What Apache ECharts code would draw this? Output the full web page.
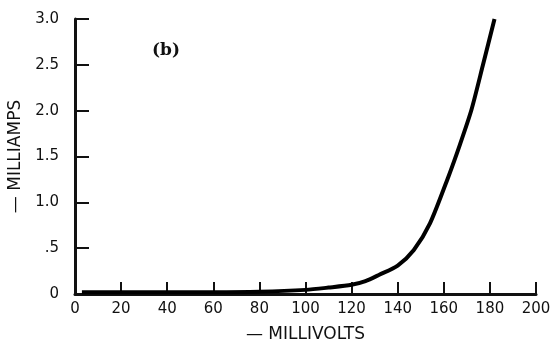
<!DOCTYPE html>
<html>
<head>
<meta charset="utf-8">
<script src="https://cdn.jsdelivr.net/npm/echarts@6/dist/echarts.min.js"></script>
<style>
  html, body { margin: 0; padding: 0; background: #fff; }
  #chart { width: 555px; height: 343px; }
</style>
</head>
<body>
<div id="chart"></div>
<script>
// curve (millivolts, milliamps)
const millivolts = [3, 20, 40, 60, 80, 100, 110, 120, 126, 132, 140, 147, 154, 162, 167, 172, 177, 182];
const milliamps = [0.02, 0.02, 0.02, 0.02, 0.025, 0.045, 0.07, 0.1, 0.14, 0.21, 0.31, 0.48, 0.77, 1.28, 1.63, 2.01, 2.5, 3.0];
const yTickLabels = { '0': '0', '0.5': '.5', '1': '1.0', '1.5': '1.5', '2': '2.0', '2.5': '2.5', '3': '3.0' };

const FONT = 'DejaVu Sans';
const chart = echarts.init(document.getElementById('chart'));

chart.setOption({
  animation: false,
  grid: { left: 75, right: 19, top: 19, bottom: 49, outerBoundsMode: 'none' },
  xAxis: {
    type: 'value',
    min: 0, max: 200, interval: 20,
    name: '— MILLIVOLTS',
    nameLocation: 'middle',
    nameGap: 32,
    nameTextStyle: { color: '#111', fontFamily: FONT, fontSize: 17 },
    axisLine: { lineStyle: { color: '#111', width: 3 } },
    axisTick: { inside: true, length: 12, lineStyle: { color: '#111', width: 2 } },
    axisLabel: { color: '#111', fontFamily: FONT, fontSize: 15, margin: 8 },
    splitLine: { show: false }
  },
  yAxis: {
    type: 'value',
    min: 0, max: 3, interval: 0.5,
    name: '— MILLIAMPS',
    nameLocation: 'middle',
    nameRotate: 90,
    nameGap: 43,
    nameTextStyle: { color: '#111', fontFamily: FONT, fontSize: 17 },
    axisLine: { show: true, lineStyle: { color: '#111', width: 3 } },
    axisTick: { show: true, inside: true, length: 14, lineStyle: { color: '#111', width: 2 } },
    axisLabel: {
      color: '#111', fontFamily: FONT, fontSize: 15, margin: 16,
      formatter: v => yTickLabels[String(v)] ?? String(v)
    },
    splitLine: { show: false }
  },
  graphic: [{
    type: 'text',
    left: 152, top: 42,
    style: { text: '(b)', fill: '#111', font: 'bold 17px "DejaVu Serif"' }
  }],
  series: [{
    type: 'line',
    smooth: 0.25,
    showSymbol: false,
    lineStyle: { color: '#000', width: 4 },
    data: millivolts.map((x, i) => [x, milliamps[i]])
  }]
});
</script>
</body>
</html>
